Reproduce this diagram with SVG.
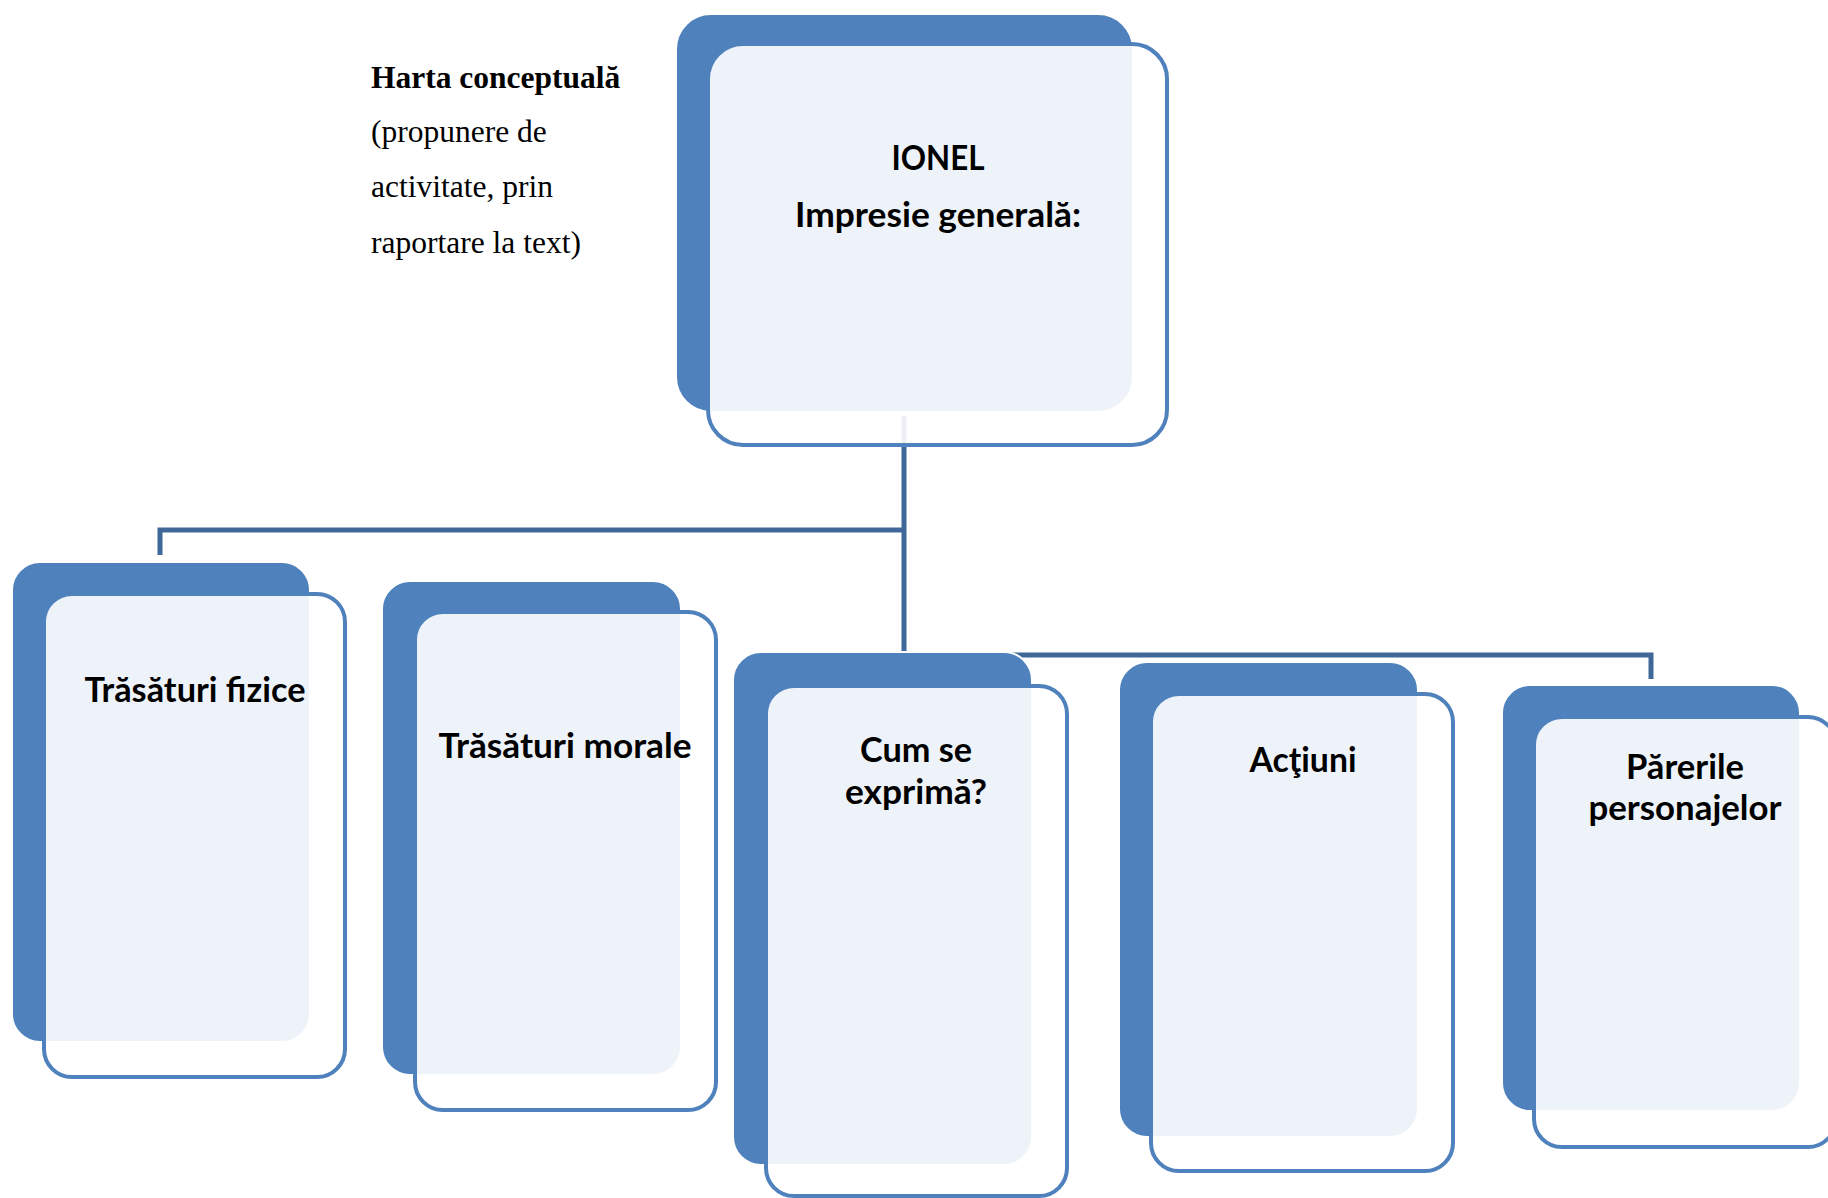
<svg xmlns="http://www.w3.org/2000/svg" width="1828" height="1198" viewBox="0 0 1828 1198">
<style>
.back{fill:#4F81BD;stroke:#FFFFFF;stroke-width:2}
.front{fill:#FFFFFF;fill-opacity:0.9;stroke:#4F81BD;stroke-width:4}
.lbl{font-family:Lato,"Open Sans",sans-serif;font-weight:700;font-size:34px;fill:#000;text-anchor:middle}
.conn{fill:none;stroke:#3F6899;stroke-width:5;stroke-linejoin:miter}
.title{font-family:"Liberation Serif","Times New Roman",serif;font-size:31.5px;fill:#000}
</style>
<rect width="1828" height="1198" fill="#FFFFFF"/>
<g id="caption">
<text class="title" x="371" y="88" font-weight="700">Harta conceptuală</text>
<text class="title" x="371" y="142">(propunere de</text>
<text class="title" x="371" y="197">activitate, prin</text>
<text class="title" x="371" y="253">raportare la text)</text>
</g>
<g id="connectors">
<polyline class="conn" points="904,416 904,655 1651,655 1651,679"/>
<polyline class="conn" points="904,530 160,530 160,555"/>
</g>
<g id="node-ionel">
<rect class="back" x="676" y="14" width="457" height="398" rx="35"/>
<rect class="front" x="708" y="44" width="459" height="401" rx="35"/>
<text class="lbl" x="938" y="170" textLength="93" lengthAdjust="spacingAndGlyphs">IONEL</text>
<text class="lbl" x="938" y="227" textLength="286" lengthAdjust="spacingAndGlyphs">Impresie generală:</text>
</g>
<g id="node-fizice">
<rect class="back" x="12" y="562" width="298" height="480" rx="28"/>
<rect class="front" x="44" y="594" width="301" height="483" rx="28"/>
<text class="lbl" x="195" y="702" textLength="221" lengthAdjust="spacingAndGlyphs">Trăsături fizice</text>
</g>
<g id="node-morale">
<rect class="back" x="382" y="581" width="299" height="494" rx="28"/>
<rect class="front" x="415" y="612" width="301" height="498" rx="28"/>
<text class="lbl" x="565" y="758" textLength="253" lengthAdjust="spacingAndGlyphs">Trăsături morale</text>
</g>
<g id="node-exprima">
<rect class="back" x="733" y="652" width="299" height="513" rx="28"/>
<rect class="front" x="766" y="686" width="301" height="510" rx="28"/>
<text class="lbl" x="916" y="762" textLength="112" lengthAdjust="spacingAndGlyphs">Cum se</text>
<text class="lbl" x="916" y="804" textLength="142" lengthAdjust="spacingAndGlyphs">exprimă?</text>
</g>
<g id="node-actiuni">
<rect class="back" x="1119" y="662" width="299" height="475" rx="28"/>
<rect class="front" x="1151" y="694" width="302" height="477" rx="28"/>
<text class="lbl" x="1303" y="772" textLength="107" lengthAdjust="spacingAndGlyphs">Acţiuni</text>
</g>
<g id="node-pareri">
<rect class="back" x="1502" y="685" width="298" height="426" rx="28"/>
<rect class="front" x="1534" y="717" width="302" height="430" rx="28"/>
<text class="lbl" x="1685" y="779" textLength="118" lengthAdjust="spacingAndGlyphs">Părerile</text>
<text class="lbl" x="1685" y="820" textLength="193" lengthAdjust="spacingAndGlyphs">personajelor</text>
</g>
</svg>
